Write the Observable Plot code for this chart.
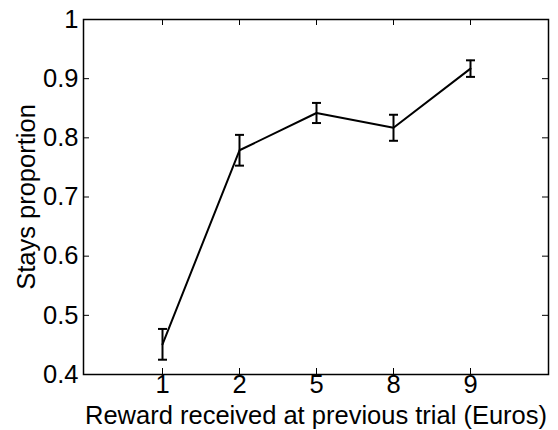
<!DOCTYPE html>
<html>
<head>
<meta charset="utf-8">
<script src="https://cdn.jsdelivr.net/npm/d3@7"></script>
<script src="https://cdn.jsdelivr.net/npm/@observablehq/plot@0.6"></script>
<style>
  html, body { margin: 0; padding: 0; background: #fff; }
  #chart { width: 558px; height: 430px; }
</style>
</head>
<body>
<div id="chart"></div>
<script>
// Data
const rewards = ["1", "2", "5", "8", "9"];
const stays = [0.451, 0.779, 0.842, 0.817, 0.917];
const errors = [0.026, 0.026, 0.017, 0.022, 0.014];
const yTicks = [0.4, 0.5, 0.6, 0.7, 0.8, 0.9, 1];
const xTitle = ["Reward received at previous trial (Euros)"];
const yTitle = ["Stays proportion"];

const data = rewards.map((r, i) => ({
  reward: r,
  stay: stays[i],
  lo: stays[i] - errors[i],
  hi: stays[i] + errors[i]
}));

const W = 558, H = 430;
const mL = 83, mR = 10, mT = 19, mB = 56;
const innerW = W - mL - mR, innerH = H - mT - mB;
const tickLen = 6;
const fontPx = 25.5;

// horizontal cap symbol for error bars
const capSymbol = {
  draw(context, size) {
    const w = 4.5;
    context.moveTo(-w, 0);
    context.lineTo(w, 0);
  }
};

const chart = Plot.plot({
  width: W,
  height: H,
  marginLeft: mL,
  marginRight: mR,
  marginTop: mT,
  marginBottom: mB,
  style: { fontFamily: "'Liberation Sans', Arial, sans-serif", background: "white", color: "black" },
  x: { type: "point", domain: rewards, padding: 1 },
  y: { domain: [0.4, 1] },
  marks: [
    Plot.axisX({ tickSize: 0, tickPadding: 0, fontSize: fontPx, label: null }),
    Plot.axisY({ ticks: yTicks, tickSize: 0, tickPadding: 5, fontSize: fontPx, label: null, tickFormat: d => String(d) }),
    // inward ticks
    Plot.tickY(yTicks, { y: d => d, insetRight: innerW - tickLen, stroke: "black", strokeWidth: 1 }),
    Plot.tickY(yTicks, { y: d => d, insetLeft: innerW - tickLen, stroke: "black", strokeWidth: 1 }),
    Plot.tickX(rewards, { x: d => d, insetTop: innerH - tickLen, stroke: "black", strokeWidth: 1 }),
    Plot.tickX(rewards, { x: d => d, insetBottom: innerH - tickLen, stroke: "black", strokeWidth: 1 }),
    Plot.frame({ stroke: "black", strokeWidth: 1.5 }),
    // data line
    Plot.line(data, { x: "reward", y: "stay", stroke: "black", strokeWidth: 2 }),
    // error bars
    Plot.ruleX(data, { x: "reward", y1: "lo", y2: "hi", stroke: "black", strokeWidth: 2 }),
    Plot.dot(data, { x: "reward", y: "lo", symbol: capSymbol, r: 4, stroke: "black", strokeWidth: 2, fill: "none" }),
    Plot.dot(data, { x: "reward", y: "hi", symbol: capSymbol, r: 4, stroke: "black", strokeWidth: 2, fill: "none" }),
    // axis titles
    Plot.text(xTitle, { frameAnchor: "bottom", dy: 41.5, fontSize: fontPx, fill: "black", lineAnchor: "middle", textAnchor: "middle" }),
    Plot.text(yTitle, { frameAnchor: "left", dx: -57, rotate: -90, fontSize: fontPx, fill: "black", textAnchor: "middle", lineAnchor: "middle" })
  ]
});

document.getElementById("chart").appendChild(chart);
</script>
</body>
</html>
